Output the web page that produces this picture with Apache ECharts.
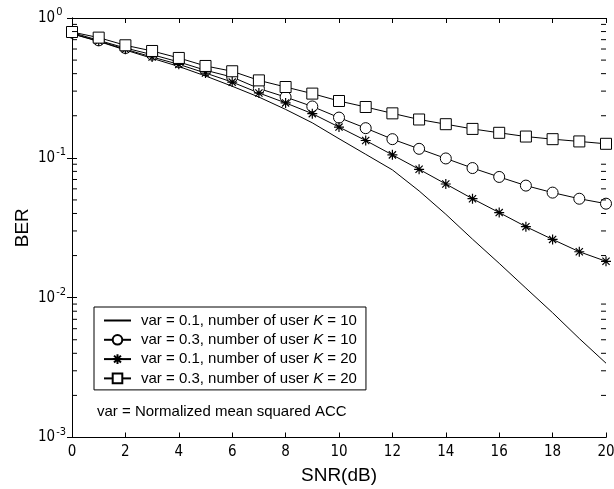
<!DOCTYPE html>
<html>
<head>
<meta charset="utf-8">
<script src="https://cdn.jsdelivr.net/npm/echarts@6/dist/echarts.min.js"></script>
<style>
  html, body { margin: 0; padding: 0; background: #fff; }
  #chart { width: 614px; height: 489px; }
</style>
</head>
<body>
<div id="chart"></div>
<script>
// SNR sweep in dB
const snr = [0,1,2,3,4,5,6,7,8,9,10,11,12,13,14,15,16,17,18,19,20];

// Bit error rate per configuration
const berVar01K10 = [0.77,0.68,0.59,0.515,0.45,0.385,0.325,0.272,0.222,0.178,0.137,0.106,0.082,0.058,0.0395,0.0262,0.0176,0.0117,0.0078,0.0051,0.0034];
const berVar03K10 = [0.787,0.692,0.610,0.547,0.485,0.423,0.378,0.313,0.272,0.233,0.194,0.163,0.136,0.116,0.099,0.0845,0.073,0.0633,0.0564,0.051,0.047];
const berVar01K20 = [0.773,0.684,0.597,0.526,0.466,0.404,0.348,0.291,0.247,0.207,0.166,0.133,0.105,0.0828,0.065,0.051,0.0406,0.0322,0.0261,0.0213,0.0182];
const berVar03K20 = [0.794,0.724,0.638,0.581,0.518,0.454,0.416,0.358,0.321,0.288,0.255,0.231,0.208,0.188,0.174,0.161,0.151,0.142,0.136,0.131,0.126];

const seriesNames = [
  'var = 0.1, number of user K = 10',
  'var = 0.3, number of user K = 10',
  'var = 0.1, number of user K = 20',
  'var = 0.3, number of user K = 20'
];

const xTicks = { min: 0, max: 20, interval: 2 };
const yRange = { min: 0.001, max: 1 };
const noteText = 'var = Normalized mean squared ACC';

// Minor log ticks (2..9 per decade)
const minorTickValues = [];
for (let e = -3; e < 0; e++) {
  for (let m = 2; m <= 9; m++) minorTickValues.push(m * Math.pow(10, e));
}

const FONT = 'Liberation Sans, Arial, Helvetica, sans-serif';
const TICK_FONT = 'Liberation Sans Narrow, DejaVu Sans Condensed, Liberation Sans, Arial, sans-serif';
const asterisk = 'path://M0,-5L0,5M-5,0L5,0M-3.6,-3.6L3.6,3.6M-3.6,3.6L3.6,-3.6';

function pairs(vals) { return snr.map((x, i) => [x, vals[i]]); }

const chart = echarts.init(document.getElementById('chart'), null, { renderer: 'canvas' });

const lineStyle = { color: '#000', width: 1 };
const markerStyle = { color: '#fff', borderColor: '#000', borderWidth: 1 };

const option = {
  animation: false,
  backgroundColor: '#fff',
  grid: { left: 72, right: 8, top: 18, bottom: 51.5, containLabel: false, outerBoundsMode: 'none' },
  xAxis: [
    {
      type: 'value', min: xTicks.min, max: xTicks.max, interval: xTicks.interval,
      name: 'SNR(dB)', nameLocation: 'middle', nameGap: 29, nameMoveOverlap: false,
      nameTextStyle: { fontFamily: FONT, fontSize: 19, color: '#000' },
      axisLine: { show: true, lineStyle: { color: '#000', width: 1 } },
      axisTick: { show: true, inside: true, length: 5, lineStyle: { color: '#000' } },
      axisLabel: { fontFamily: TICK_FONT, fontSize: 15, color: '#000', margin: 7 },
      splitLine: { show: false }
    },
    {
      type: 'value', position: 'top', min: xTicks.min, max: xTicks.max, interval: xTicks.interval,
      axisLine: { show: true, lineStyle: { color: '#000', width: 1 } },
      axisTick: { show: true, inside: true, length: 5, lineStyle: { color: '#000' } },
      axisLabel: { show: false },
      splitLine: { show: false }
    }
  ],
  yAxis: [
    {
      type: 'log', logBase: 10, min: yRange.min, max: yRange.max,
      name: 'BER', nameLocation: 'middle', nameGap: 40, nameRotate: 90, nameMoveOverlap: false,
      nameTextStyle: { fontFamily: FONT, fontSize: 19, color: '#000' },
      axisLine: { show: true, lineStyle: { color: '#000', width: 1 } },
      axisTick: { show: true, inside: true, length: 5, lineStyle: { color: '#000' } },
      axisLabel: {
        color: '#000', margin: 34, align: 'left',
        formatter: function (v) {
          const e = Math.round(Math.log10(v));
          return '{b|10}{s|' + e + '}';
        },
        rich: {
          b: { fontFamily: TICK_FONT, fontSize: 15, color: '#000' },
          s: { fontFamily: TICK_FONT, fontSize: 11, color: '#000', padding: [0, 0, 11, 1] }
        }
      },
      splitLine: { show: false }
    },
    {
      type: 'log', logBase: 10, min: yRange.min, max: yRange.max, position: 'right',
      axisLine: { show: true, lineStyle: { color: '#000', width: 1 } },
      axisTick: { show: true, inside: true, length: 5, lineStyle: { color: '#000' } },
      axisLabel: { show: false },
      splitLine: { show: false }
    }
  ],
  legend: {
    data: seriesNames.map((n, i) => i === 0 ? { name: n, itemStyle: { opacity: 0 } } : { name: n }),
    orient: 'vertical',
    left: 94, top: 307,
    backgroundColor: '#fff',
    borderColor: '#000', borderWidth: 1, borderRadius: 0,
    padding: [5, 9, 3, 9],
    itemWidth: 27, itemHeight: 12, itemGap: 2.3,
    textStyle: {
      fontFamily: FONT, fontSize: 15, color: '#000', padding: [0, 0, 0, 5], lineHeight: 17,
      rich: { i: { fontFamily: FONT, fontSize: 15, fontStyle: 'italic', color: '#000', lineHeight: 17 } }
    },
    formatter: function (name) { return name.replace(' K =', ' {i|K} ='); },
    selectedMode: false
  },
  graphic: [
    {
      type: 'text', left: 97, top: 404,
      style: { text: noteText, fontFamily: FONT, fontSize: 15, fill: '#000' }
    }
  ],
  series: [
    {
      name: seriesNames[0], type: 'line', data: pairs(berVar01K10),
      symbol: 'none', showSymbol: false, lineStyle: lineStyle, itemStyle: { color: '#000' }
    },
    {
      name: seriesNames[1], type: 'line', data: pairs(berVar03K10),
      symbol: 'circle', symbolSize: 11, lineStyle: lineStyle, itemStyle: markerStyle
    },
    {
      name: seriesNames[2], type: 'line', data: pairs(berVar01K20),
      symbol: asterisk, symbolSize: 10, lineStyle: lineStyle,
      itemStyle: { color: 'rgba(0,0,0,0)', borderColor: '#000', borderWidth: 1.2 }
    },
    {
      name: seriesNames[3], type: 'line', data: pairs(berVar03K20),
      symbol: 'rect', symbolSize: 11, lineStyle: lineStyle, itemStyle: markerStyle
    },
    {
      // minor log ticks on left and right frame edges
      name: 'minorTicks', type: 'custom', silent: true, clip: false, z: 5,
      data: minorTickValues.map(v => [xTicks.min, v]),
      renderItem: function (params, api) {
        const v = api.value(1);
        const pL = api.coord([xTicks.min, v]);
        const pR = api.coord([xTicks.max, v]);
        const st = { stroke: '#000', lineWidth: 1 };
        return {
          type: 'group',
          children: [
            { type: 'line', shape: { x1: pL[0], y1: pL[1], x2: pL[0] + 5, y2: pL[1] }, style: st },
            { type: 'line', shape: { x1: pR[0] - 5, y1: pR[1], x2: pR[0], y2: pR[1] }, style: st }
          ]
        };
      }
    }
  ]
};

chart.setOption(option);
</script>
</body>
</html>
